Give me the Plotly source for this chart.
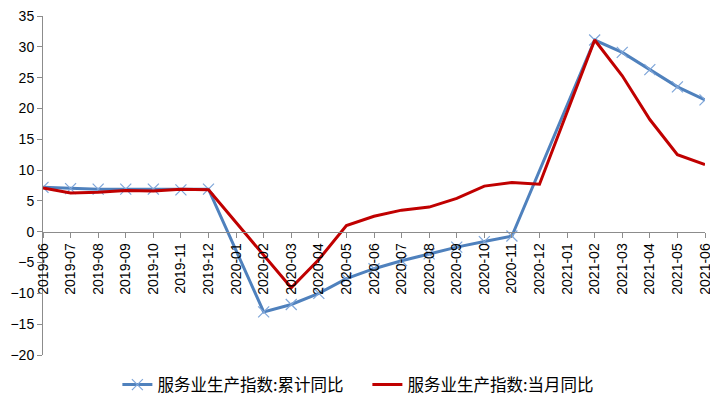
import plotly.graph_objects as go

# 月份
months = ["2019-06", "2019-07", "2019-08", "2019-09", "2019-10", "2019-11", "2019-12",
          "2020-01", "2020-02", "2020-03", "2020-04", "2020-05", "2020-06", "2020-07",
          "2020-08", "2020-09", "2020-10", "2020-11", "2020-12", "2021-01", "2021-02",
          "2021-03", "2021-04", "2021-05", "2021-06"]

# 服务业生产指数:累计同比 (None = 无数据)
cumulative = [7.2, 7.0, 6.9, 6.9, 6.9, 6.8, 6.9,
              None, -13.0, -11.8, -10.0, -7.6, -6.0, -4.7,
              -3.6, -2.5, -1.6, -0.7, None, None, 31.1,
              29.1, 26.3, 23.5, 21.4]

# 服务业生产指数:当月同比
monthly = [7.1, 6.3, 6.4, 6.7, 6.6, 6.9, 6.8,
           None, None, -9.1, -4.5, 1.0, 2.5, 3.5,
           4.0, 5.4, 7.4, 8.0, 7.7, None, 31.1,
           25.3, 18.2, 12.5, 10.9]

y_ticks = list(range(-20, 36, 5))
y_min, y_max = -20, 35

font_family = "Liberation Sans, Noto Sans CJK SC, sans-serif"

fig = go.Figure()
fig.add_trace(go.Scatter(
    x=months, y=cumulative, name="服务业生产指数:累计同比",
    mode="lines+markers", connectgaps=True,
    line=dict(color="#4F81BD", width=3),
    marker=dict(symbol="x-thin", size=11, color="#7FA6D9",
                line=dict(color="#7FA6D9", width=1.2)),
))
fig.add_trace(go.Scatter(
    x=months, y=monthly, name="服务业生产指数:当月同比",
    mode="lines", connectgaps=True,
    line=dict(color="#C00000", width=3),
))

# x axis crosses the y axis at zero
zero_pos = (0 - y_min) / (y_max - y_min)

# page body has an 8px margin, so the margins are shifted to compensate
fig.update_layout(
    width=718, height=403,
    margin=dict(l=35, r=21, t=8, b=56, autoexpand=False),
    paper_bgcolor="white", plot_bgcolor="white",
    font=dict(family=font_family, color="black"),
    legend=dict(orientation="h", x=0.49, xanchor="center", y=-0.088, yanchor="middle",
                font=dict(size=16.5, family="Noto Sans CJK SC, sans-serif"),
                itemwidth=30, tracegroupgap=0, entrywidth=205),
    xaxis=dict(
        type="category", range=[0, len(months) - 1],
        anchor="free", position=zero_pos,
        showline=True, linecolor="#8C8C8C", linewidth=1,
        ticks="outside", ticklen=5, tickcolor="#8C8C8C",
        tickangle=-90, tickfont=dict(size=14),
        showgrid=False, zeroline=False, automargin=False,
    ),
    yaxis=dict(
        range=[y_min, y_max], tickvals=y_ticks,
        showline=True, linecolor="#8C8C8C", linewidth=1,
        ticks="outside", ticklen=5, tickcolor="#8C8C8C",
        tickfont=dict(size=14), ticklabeloverflow="allow",
        showgrid=False, zeroline=False, automargin=False,
    ),
)

fig.write_html("out.html")
